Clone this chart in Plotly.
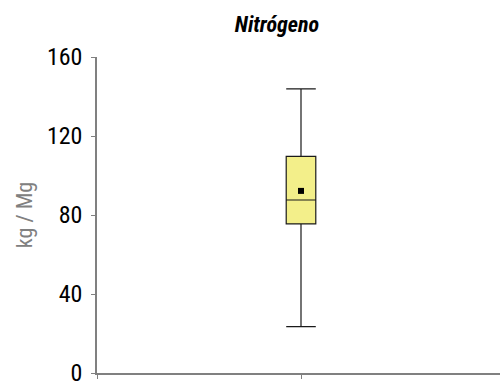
import plotly.graph_objects as go

categories = [1]
lower_whisker = [23.5]
q1_vals = [75.5]
median_vals = [87.6]
q3_vals = [109.7]
upper_whisker = [143.9]
mean_vals = [92.2]
y_ticks = [0, 40, 80, 120, 160]

FONT = "Liberation Sans Narrow, Arial Narrow, Roboto Condensed, Liberation Sans, sans-serif"

fig = go.Figure()
fig.add_trace(go.Box(
    x=categories, q1=q1_vals, median=median_vals, q3=q3_vals,
    lowerfence=lower_whisker, upperfence=upper_whisker,
    width=0.145, whiskerwidth=1,
    fillcolor="#F3EF8A", line=dict(color="#1a1a1a", width=1.2),
    showlegend=False, hoverinfo="skip",
))
fig.add_trace(go.Scatter(
    x=categories, y=mean_vals, mode="markers",
    marker=dict(symbol="square", size=6, color="black"),
    showlegend=False, hoverinfo="skip",
))

fig.update_layout(
    width=500, height=381,
    margin=dict(l=97, r=0, t=57, b=8, autoexpand=False),
    paper_bgcolor="white", plot_bgcolor="white",
    font=dict(family=FONT, color="black"),
    title=dict(text="<b><i>Nitrógeno</i></b>", x=277/500, xanchor="center",
               y=1 - 24/381, yanchor="middle", font=dict(size=22, family=FONT)),
    xaxis=dict(range=[0, 403/204], tickvals=[0, 1], ticktext=["", ""],
               showline=True, linecolor="#808080", linewidth=1.5,
               ticks="outside", ticklen=4, tickcolor="#808080",
               showgrid=False, zeroline=False, fixedrange=True),
    yaxis=dict(range=[0, 160], tickvals=y_ticks,
               showline=True, linecolor="#808080", linewidth=1.5,
               ticks="outside", ticklen=4, tickcolor="#808080",
               tickfont=dict(size=24, family=FONT), ticklabelstandoff=4,
               ticklabeloverflow="allow", automargin=False,
               showgrid=False, zeroline=False,
               title=dict(text="kg / Mg", font=dict(size=22, color="#808080", family=FONT),
                          standoff=8)),
)

fig.write_html("out.html")
